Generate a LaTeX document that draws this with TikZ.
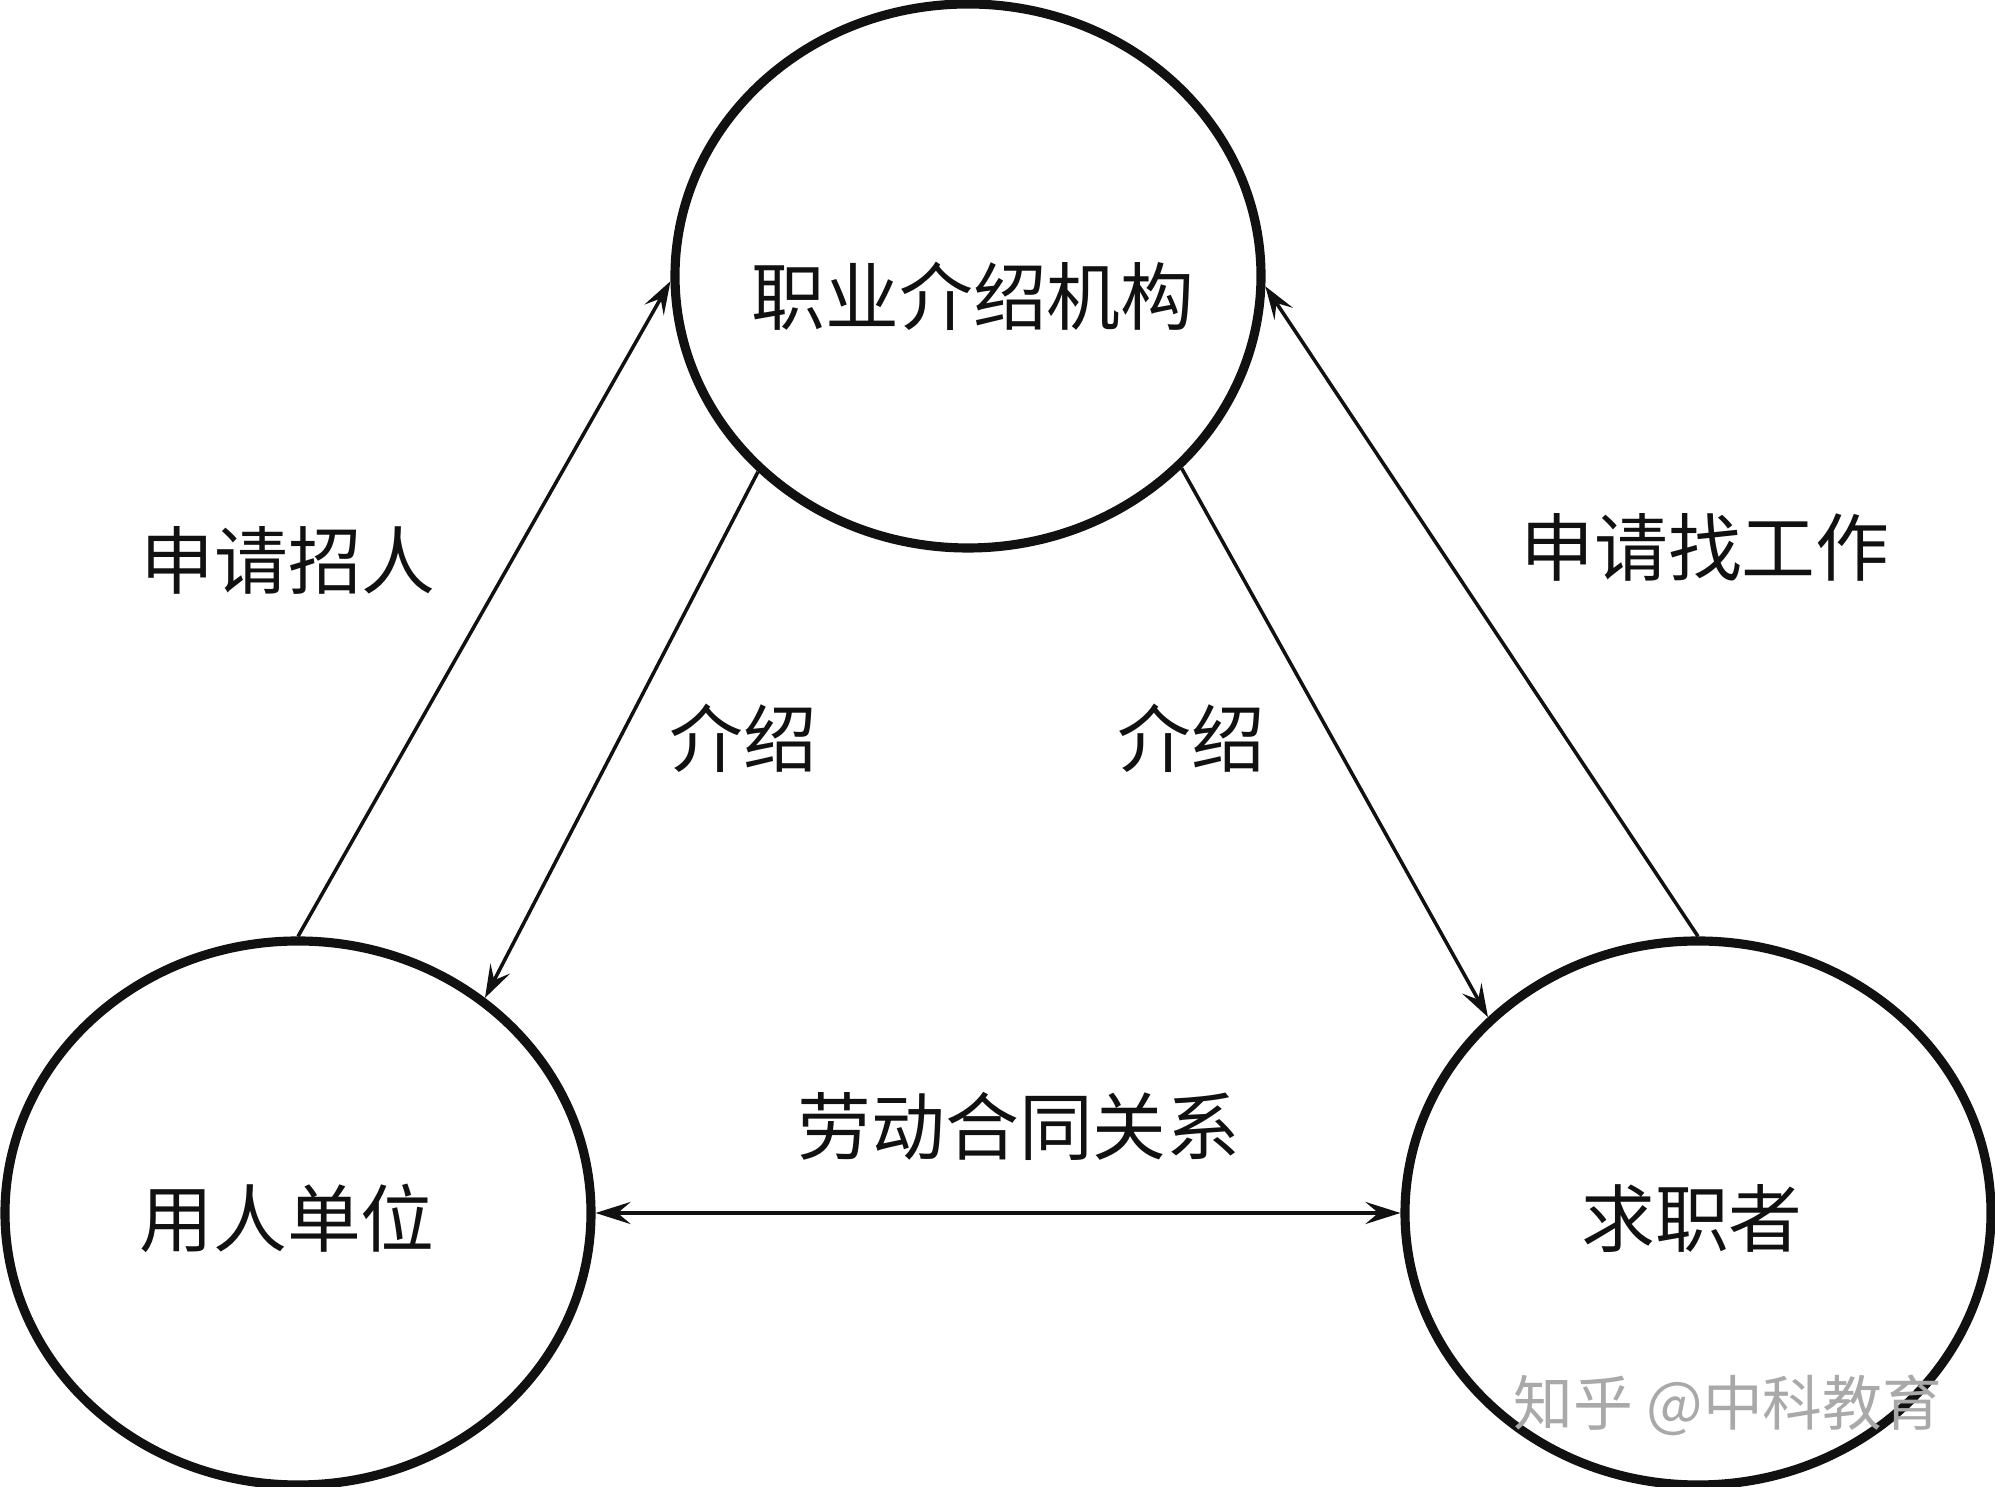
\documentclass[tikz,border=0pt]{standalone}
\usepackage{fontspec}
\setmainfont{Noto Sans CJK SC}
\definecolor{inkblack}{HTML}{111111}
\definecolor{markgray}{HTML}{A9A9A9}
\usetikzlibrary{shapes.geometric,arrows.meta}

\begin{document}
\begin{tikzpicture}[
    party/.style={ellipse,draw=inkblack,line width=2.6pt,minimum width=5.86cm,
      minimum height=5.44cm,inner sep=0pt},
    partytext/.style={font=\fontsize{21}{25}\selectfont,inner sep=0pt,text=inkblack},
    edgetag/.style={font=\fontsize{21}{25}\selectfont,inner sep=0pt,text=inkblack},
    flow/.style={-{Stealth[length=3.3mm,width=2.2mm,inset=1.3mm]},line width=1pt,inkblack},
    bond/.style={{Stealth[length=3.5mm,width=2.2mm,inset=1.3mm]}-{Stealth[length=3.5mm,width=2.2mm,inset=1.3mm]},
      line width=1.3pt,inkblack}
  ]
    \useasboundingbox (0,0) rectangle (19.95,14.87);
    % Three parties
    \node[party] (agency) at (9.68,12.11) {};
    \node[party] (employer) at (2.98,2.74) {};
    \node[party] (seeker) at (16.98,2.74) {};
    \foreach \p/\dx/\dy/\t in {agency/0.05/-0.2/职业介绍机构, employer/-0.11/-0.05/用人单位,
      seeker/-0.06/-0.06/求职者} {
      \node[partytext] (\p text) at ([shift={(\dx,\dy)}]\p.center) {\t};
    }
    % Requests and referrals
    \draw[flow] (employer.90) -- (agency.181);
    \draw[flow] (agency.223) -- (employer.49);
    \draw[flow] (agency.318) -- (seeker.137);
    \draw[flow] (seeker.90) -- (agency.358);
    \draw[bond] (employer.0) -- (seeker.180);
    % Labels
    \foreach \n/\x/\y/\t in {hire/2.88/9.27/申请招人, apply/17.05/9.40/申请找工作,
      introl/7.43/7.49/介绍, intror/11.91/7.49/介绍, contract/10.19/3.61/劳动合同关系} {
      \node[edgetag] (\n) at (\x,\y) {\t};
    }
    \node[font=\fontsize{17}{20}\selectfont,text=markgray] (mark) at (17.28,0.82) {知乎 @中科教育};
\end{tikzpicture}
\end{document}
